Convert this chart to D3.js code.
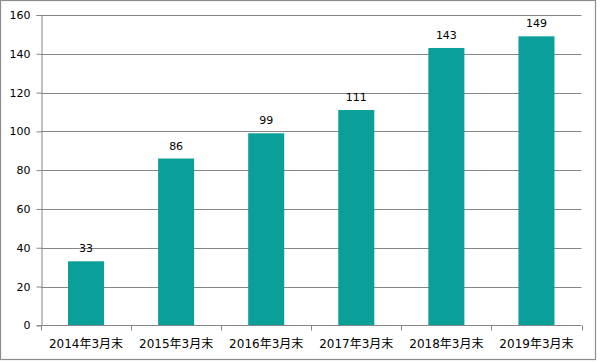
<!DOCTYPE html>
<html>
<head>
<meta charset="utf-8">
<script src="https://cdn.jsdelivr.net/npm/d3@7"></script>
<style>
  body { margin: 0; background: #fff; }
  svg { display: block; }
  .tick text { fill: #000; }
</style>
</head>
<body>
<div id="chart"></div>
<script>
// data
var categories = ["2014年3月末", "2015年3月末", "2016年3月末", "2017年3月末", "2018年3月末", "2019年3月末"];
var values = [33, 86, 99, 111, 143, 149];
var yTicks = [0, 20, 40, 60, 80, 100, 120, 140, 160];

var svgWidth = 600;
var svgHeight = 362;

var margin = { top: 15, right: 18, bottom: 37, left: 41 };
var width = 581.5 - margin.left;
var height = 325.3 - margin.top;

var svg = d3.select("#chart")
    .append("svg")
    .attr("width", svgWidth)
    .attr("height", svgHeight);

// outer frame
svg.append("rect")
    .attr("x", 0.5)
    .attr("y", 0.5)
    .attr("width", 595)
    .attr("height", 359)
    .attr("fill", "none")
    .attr("stroke", "#8c8c8c")
    .attr("stroke-width", 1.2);

var chartGroup = svg.append("g")
    .attr("transform", `translate(${margin.left},${margin.top})`);

var x = d3.scaleBand()
    .domain(categories)
    .range([0, width])
    .paddingInner(0.6)
    .paddingOuter(0.3);

var xEdge = d3.scaleLinear()
    .domain([0, categories.length])
    .range([0, width]);

var y = d3.scaleLinear()
    .domain([0, 160])
    .range([height, 0]);

// gridlines
chartGroup.append("g")
    .selectAll("line")
    .data(yTicks.filter(d => d > 0))
    .enter()
    .append("line")
    .attr("x1", 0)
    .attr("x2", width)
    .attr("y1", d => Math.round(y(d)) + 0.5)
    .attr("y2", d => Math.round(y(d)) + 0.5)
    .attr("stroke", "#868686")
    .attr("stroke-width", 1);

// bars
chartGroup.append("g")
    .selectAll("rect")
    .data(values)
    .enter()
    .append("rect")
    .attr("x", (d, i) => x(categories[i]))
    .attr("y", d => y(d))
    .attr("width", x.bandwidth())
    .attr("height", d => height - y(d))
    .attr("fill", "#0a9f98");

// value labels
chartGroup.append("g")
    .selectAll("text")
    .data(values)
    .enter()
    .append("text")
    .attr("x", (d, i) => x(categories[i]) + x.bandwidth() / 2)
    .attr("y", d => y(d) - 9)
    .attr("text-anchor", "middle")
    .style("font-family", "'DejaVu Sans', Verdana, sans-serif")
    .style("font-size", "11px")
    .attr("fill", "#000")
    .text(d => d);

// y axis
var yAxis = d3.axisLeft(y)
    .tickValues(yTicks)
    .tickSize(5)
    .tickPadding(6)
    .tickFormat(d3.format("d"));

var yG = chartGroup.append("g")
    .attr("transform", "translate(0.5,0)")
    .call(yAxis);
yG.selectAll("line, path").attr("stroke", "#868686");
yG.selectAll("text")
    .style("font-family", "'DejaVu Sans', Verdana, sans-serif")
    .style("font-size", "11px");

// x axis: ticks between categories
var xG = chartGroup.append("g")
    .attr("transform", `translate(0,${Math.round(height) + 0.5})`);
xG.append("line")
    .attr("x1", 0)
    .attr("x2", width)
    .attr("stroke", "#868686");
xG.selectAll(".edge")
    .data(d3.range(categories.length + 1))
    .enter()
    .append("line")
    .attr("class", "edge")
    .attr("x1", d => Math.round(xEdge(d)) + 0.5)
    .attr("x2", d => Math.round(xEdge(d)) + 0.5)
    .attr("y1", 0)
    .attr("y2", 5)
    .attr("stroke", "#868686");
xG.selectAll(".lbl")
    .data(categories)
    .enter()
    .append("text")
    .attr("class", "lbl")
    .attr("x", d => x(d) + x.bandwidth() / 2)
    .attr("y", 22)
    .attr("text-anchor", "middle")
    .style("font-family", "'DejaVu Sans', 'Noto Sans CJK JP', sans-serif")
    .style("font-size", "12px")
    .attr("fill", "#000")
    .text(d => d);
</script>
</body>
</html>
